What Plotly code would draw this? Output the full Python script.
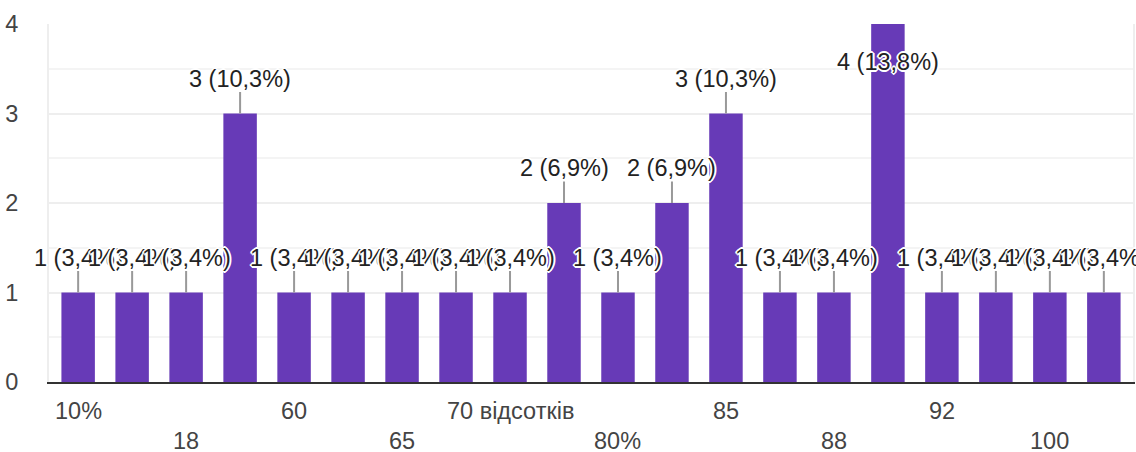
import plotly.graph_objects as go

categories = ["10%", "15", "18", "50", "60", "64", "65", "68", "70 відсотків", "75",
              "80%", "83", "85", "87", "88", "90", "92", "95", "100", "100%"]
counts = [1, 1, 1, 3, 1, 1, 1, 1, 1, 2, 1, 2, 3, 1, 1, 4, 1, 1, 1, 1]
y_ticks = [0, 1, 2, 3, 4]

total = sum(counts)
ymax = max(y_ticks)
FONT = "Arial, 'Liberation Sans', sans-serif"
FS = 23.5
offs = [(1, 0), (-1, 0), (0, 1), (0, -1), (1, 1), (-1, -1), (1, -1), (-1, 1),
        (2, 0), (-2, 0), (0, 2), (0, -2)]
shadow = ", ".join(f"white {dx}px {dy}px 0px" for dx, dy in offs)

fig = go.Figure()
fig.add_trace(go.Bar(
    x=list(range(len(categories))), y=counts,
    marker=dict(color="#673ab7", line=dict(width=0)),
    width=0.62, hoverinfo="skip", showlegend=False,
))

annotations = []
for i, v in enumerate(counts):
    pct = f"{v / total * 100:.1f}".replace(".", ",")
    annotations.append(dict(
        x=i, y=v, xref="x", yref="y",
        text=f"{v} ({pct}%)",
        showarrow=True, arrowhead=0, arrowwidth=2, arrowcolor="#999999",
        ax=0, ay=(38 if v >= ymax else -35), standoff=0, startstandoff=0,
        font=dict(family=FONT, size=FS, color="#222222", shadow=shadow),
        borderpad=0,
    ))

for k, i in enumerate(range(0, len(categories), 2)):
    annotations.append(dict(
        x=i, y=0, xref="x", yref="y",
        text=categories[i], showarrow=False,
        yanchor="middle", yshift=(-29 if k % 2 == 0 else -59),
        font=dict(family=FONT, size=FS, color="#444444"),
    ))

fig.update_layout(
    width=1136, height=452,
    margin=dict(l=49, r=3, t=24, b=70),
    paper_bgcolor="white", plot_bgcolor="white",
    annotations=annotations,
    xaxis=dict(range=[-0.54, len(categories) - 0.46], showticklabels=False,
               showgrid=False, zeroline=False, showline=True, automargin=False,
               linecolor="#333333", linewidth=2, fixedrange=True),
    yaxis=dict(range=[0, ymax], tickvals=y_ticks, ticktext=[str(t) for t in y_ticks],
               tickfont=dict(family=FONT, size=FS, color="#444444"),
               ticklabelstandoff=24, automargin=False,
               showgrid=True, gridcolor="#eeeeee", gridwidth=2,
               minor=dict(dtick=0.5, showgrid=True, gridcolor="#f4f4f4", gridwidth=1.5),
               zeroline=False, showline=True, mirror=True,
               linecolor="#eeeeee", linewidth=2, fixedrange=True),
)

fig.write_html("out.html", config={"displayModeBar": False},
               post_script="document.body.style.margin='0';document.body.style.overflow='hidden';")
